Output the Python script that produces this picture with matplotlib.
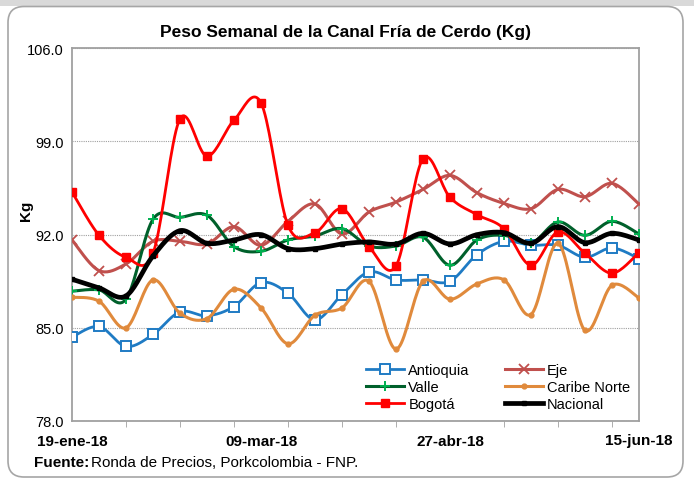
import numpy as np
import matplotlib
matplotlib.use("Agg")
import matplotlib.pyplot as plt
from matplotlib.patches import FancyBboxPatch, Rectangle
from matplotlib.lines import Line2D

plt.rcParams['font.family'] = ['Liberation Sans', 'DejaVu Sans']

weeks = ["19-ene-18", "26-ene-18", "02-feb-18", "09-feb-18", "16-feb-18", "23-feb-18",
         "02-mar-18", "09-mar-18", "16-mar-18", "23-mar-18", "30-mar-18", "06-abr-18",
         "13-abr-18", "20-abr-18", "27-abr-18", "04-may-18", "11-may-18", "18-may-18",
         "25-may-18", "01-jun-18", "08-jun-18", "15-jun-18"]
tick_labels = ["19-ene-18", "09-mar-18", "27-abr-18", "15-jun-18"]

antioquia = [84.3, 85.1, 83.6, 84.5, 86.2, 85.9, 86.6, 88.4, 87.6, 85.6, 87.5, 89.2,
             88.6, 88.6, 88.5, 90.5, 91.5, 91.2, 91.2, 90.3, 91.0, 90.2]
eje = [91.6, 89.3, 89.8, 91.5, 91.5, 91.3, 92.6, 91.2, 93.0, 94.3, 92.05, 93.7,
       94.45, 95.4, 96.45, 95.15, 94.35, 93.95, 95.4, 94.85, 95.85, 94.3]
valle = [87.75, 87.85, 87.15, 93.15, 93.3, 93.45, 91.1, 90.75, 91.6, 91.9, 92.45, 91.15,
         91.15, 91.8, 89.7, 91.6, 91.95, 91.35, 92.95, 91.95, 93.0, 92.05]
caribe = [87.3, 87.0, 85.0, 88.6, 86.1, 85.7, 87.9, 86.5, 83.8, 85.95, 86.5, 88.5,
          83.4, 88.5, 87.15, 88.3, 88.6, 86.0, 91.35, 84.8, 88.2, 87.25]
bogota = [95.2, 91.95, 90.3, 90.6, 100.7, 97.9, 100.6, 101.9, 92.7, 92.15, 93.95, 91.1,
          89.65, 97.7, 94.8, 93.5, 92.45, 89.7, 92.2, 90.6, 89.1, 90.65]
nacional = [88.65, 88.0, 87.4, 90.4, 92.3, 91.35, 91.6, 92.0, 90.95, 90.95, 91.3, 91.45,
            91.3, 92.1, 91.3, 92.0, 92.15, 91.35, 92.6, 91.4, 92.1, 91.6]


def smooth(y, n=20):
    """Excel-like smoothed line (cardinal Bezier through the points)."""
    y = np.asarray(y, float)
    x = np.arange(len(y), dtype=float)
    xs, ys = [], []
    for i in range(len(y) - 1):
        p0 = np.array([x[max(i - 1, 0)], y[max(i - 1, 0)]])
        p1 = np.array([x[i], y[i]])
        p2 = np.array([x[i + 1], y[i + 1]])
        p3 = np.array([x[min(i + 2, len(y) - 1)], y[min(i + 2, len(y) - 1)]])
        c1 = p1 + (p2 - p0) / 6.0
        c2 = p2 - (p3 - p1) / 6.0
        t = np.linspace(0, 1, n, endpoint=(i == len(y) - 2))[:, None]
        pts = ((1 - t) ** 3) * p1 + 3 * ((1 - t) ** 2) * t * c1 + 3 * (1 - t) * t ** 2 * c2 + t ** 3 * p2
        xs.append(pts[:, 0]); ys.append(pts[:, 1])
    return np.concatenate(xs), np.concatenate(ys)


fig = plt.figure(figsize=(6.94, 4.81), dpi=100)
fig.patch.set_facecolor('white')
fig.add_artist(Rectangle((0, 474), 694, 7, transform=None, facecolor='#d9d9d9', edgecolor='none', zorder=0))
fig.add_artist(FancyBboxPatch((8, 3), 675, 470.5, boxstyle="round,pad=0,rounding_size=16",
                              transform=None, facecolor='white', edgecolor='#a6a6a6', linewidth=1.2, zorder=0))

ax = fig.add_axes([72 / 694, 1 - 422 / 481, (639 - 72) / 694, (422 - 49.3) / 481])
ax.set_facecolor('none')

x = np.arange(len(weeks))

series = [
    ("Antioquia", antioquia, dict(color='#1F7BC4', lw=2.0), dict(marker='s', ms=6.5, mfc='white', mec='#1F7BC4', mew=1.4)),
    ("Eje", eje, dict(color='#C0504D', lw=2.2), dict(marker='x', ms=7, mec='#C0504D', mew=1.3)),
    ("Valle", valle, dict(color='#00602B', lw=2.2), dict(marker='+', ms=7, mec='#00B050', mew=1.4)),
    ("Caribe Norte", caribe, dict(color='#E08A3C', lw=2.2), dict(marker='o', ms=3.5, mfc='#E08A3C', mec='#E08A3C')),
    ("Bogotá", bogota, dict(color='#FF0000', lw=2.0), dict(marker='s', ms=6, mfc='#FF0000', mec='#FF0000')),
    ("Nacional", nacional, dict(color='black', lw=3.4), dict(marker='s', ms=2.5, mfc='black', mec='black')),
]

handles = {}
for z, (name, vals, lstyle, mstyle) in enumerate(series):
    sx, sy = smooth(vals)
    ax.plot(sx, sy, solid_capstyle='round', zorder=3 + z, **lstyle)
    ax.plot(x, vals, ls='none', zorder=3 + z, **mstyle)
    handles[name] = Line2D([], [], **lstyle, **mstyle)

ax.set_xlim(0, 21)
ax.set_ylim(78, 106)
ax.set_yticks([78, 85, 92, 99, 106])
ax.set_yticklabels(["78.0", "85.0", "92.0", "99.0", "106.0"], fontsize=10.5)
ax.yaxis.grid(True, linestyle=(0, (1, 1)), color='#a0a0a0', linewidth=0.8)
ax.set_axisbelow(True)

ax.set_xticks([0, 7, 14, 21])
ax.set_xticklabels(tick_labels, fontsize=11, fontweight='bold')
ax.set_xticks(np.arange(0, 21, 2), minor=True)
ax.tick_params(axis='x', which='major', length=0, pad=9)
ax.tick_params(axis='x', which='minor', length=4, direction='out', color='#a0a0a0')
ax.tick_params(axis='y', length=0, pad=6)

for s in ax.spines.values():
    s.set_color('#a0a0a0')
    s.set_linewidth(1.3)

ax.set_ylabel("Kg", fontsize=11, fontweight='bold')
ax.yaxis.set_label_coords((33 - 72) / 567, (422 - 211) / 372.7)

fig.text(345 / 694, 1 - 32 / 481, "Peso Semanal de la Canal Fría de Cerdo (Kg)",
         ha='center', va='center', fontsize=12.5, fontweight='bold')

order = ["Antioquia", "Valle", "Bogotá", "Eje", "Caribe Norte", "Nacional"]
leg = fig.legend([handles[n] for n in order], order, ncol=2, frameon=False,
                 loc='upper left', bbox_to_anchor=(366 / 694, 1 - 364 / 481),
                 borderpad=0, borderaxespad=0, handlelength=2.6, handletextpad=0.3,
                 columnspacing=2.4, labelspacing=0.22, fontsize=10.5)

fig.text(34 / 694, 1 - 463 / 481, "Fuente:", fontsize=11, fontweight='bold', va='center', ha='left')
fig.text(91 / 694, 1 - 463 / 481, "Ronda de Precios, Porkcolombia - FNP.", fontsize=11, va='center', ha='left')

fig.savefig("out.png", dpi=100)
